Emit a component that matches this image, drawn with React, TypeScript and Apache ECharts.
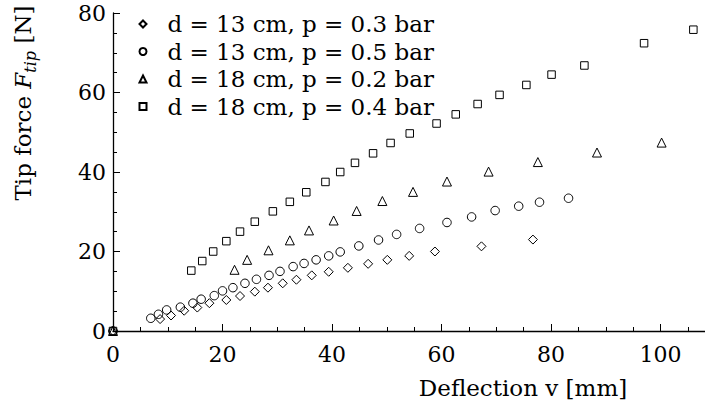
import React, { useEffect, useRef } from "react";
import * as echarts from "echarts";

const FONT = "DejaVu Serif";

const seriesNames = [
  "d = 13 cm, p = 0.3 bar",
  "d = 13 cm, p = 0.5 bar",
  "d = 18 cm, p = 0.2 bar",
  "d = 18 cm, p = 0.4 bar",
];

const symbols = ["diamond", "circle", "triangle", "rect"];
const symbolSizes = [9, 8.5, 9, 7.5];

const d13p03: number[][] = [
  [0, 0], [8.6, 3.0], [10.6, 3.9], [13.0, 5.1], [15.4, 5.9], [17.6, 7.0], [20.7, 7.8],
  [23.2, 8.8], [25.9, 9.9], [28.3, 10.9], [31.0, 12.0], [33.5, 12.9], [36.3, 14.0],
  [39.4, 14.9], [42.9, 15.9], [46.6, 16.9], [50.1, 17.9], [54.1, 18.9], [58.8, 20.0],
  [67.3, 21.3], [76.7, 23.0],
];

const d13p05: number[][] = [
  [0, 0], [6.9, 3.2], [8.3, 4.2], [9.8, 5.3], [12.3, 6.0], [14.6, 7.0], [16.1, 8.0],
  [18.5, 8.9], [20.0, 10.1], [21.9, 10.9], [24.1, 12.0], [26.2, 13.0], [28.5, 14.0],
  [30.5, 15.0], [32.9, 16.2], [34.9, 17.0], [37.1, 17.9], [39.4, 18.9], [41.5, 19.9],
  [44.9, 21.4], [48.5, 22.9], [51.8, 24.3], [56.0, 25.8], [61.0, 27.3], [65.5, 28.7],
  [69.8, 30.3], [74.1, 31.4], [77.9, 32.4], [83.2, 33.4],
];

const d18p02: number[][] = [
  [0, 0], [22.2, 15.4], [24.5, 17.9], [28.4, 20.3], [32.3, 22.8], [35.8, 25.3],
  [40.3, 27.8], [44.5, 30.2], [49.2, 32.7], [54.8, 35.0], [61.0, 37.6], [68.6, 40.1],
  [77.6, 42.5], [88.4, 44.9], [100.2, 47.4],
];

const d18p04: number[][] = [
  [0, 0], [14.3, 15.2], [16.3, 17.6], [18.3, 20.0], [20.7, 22.6], [23.2, 25.0],
  [25.9, 27.5], [29.2, 30.1], [32.3, 32.5], [35.3, 34.9], [38.8, 37.5], [41.5, 40.0],
  [44.2, 42.3], [47.5, 44.7], [50.7, 47.3], [54.2, 49.7], [59.1, 52.2], [62.6, 54.5],
  [66.6, 57.1], [70.6, 59.4], [75.5, 61.9], [80.1, 64.5], [86.1, 66.8], [97.0, 72.4],
  [106.0, 75.8],
];

const allData = [d13p03, d13p05, d18p02, d18p04];

const xTitle = "Deflection v [mm]";

export default function App() {
  const ref = useRef<HTMLDivElement>(null);

  useEffect(() => {
    if (!ref.current) return;
    const chart = echarts.init(ref.current, undefined, { renderer: "svg" });

    const axisCommon = {
      type: "value" as const,
      interval: 20,
      min: 0,
      axisLine: { show: true, lineStyle: { color: "#000", width: 1.3 } },
      axisTick: { show: true, inside: true, length: 7, lineStyle: { color: "#000", width: 1 } },
      minorTick: { show: true, splitNumber: 4, length: 4, lineStyle: { color: "#000", width: 1 } },
      splitLine: { show: false },
      minorSplitLine: { show: false },
    };

    chart.setOption({
      animation: false,
      backgroundColor: "#fff",
      grid: { left: 113, top: 13, right: 20, bottom: 82, containLabel: false },
      xAxis: {
        ...axisCommon,
        max: 120,
        axisLabel: {
          show: true,
          margin: 12,
          color: "#000",
          fontFamily: FONT,
          fontSize: 22,
          showMaxLabel: false,
        },
      },
      yAxis: {
        ...axisCommon,
        max: 80,
        axisLabel: {
          show: true,
          margin: 7,
          color: "#000",
          fontFamily: FONT,
          fontSize: 22,
        },
      },
      legend: {
        show: true,
        orient: "vertical",
        left: 138.5,
        top: 12,
        padding: 0,
        itemWidth: 7,
        itemHeight: 7,
        itemGap: 3.5,
        selectedMode: false,
        textStyle: {
          fontFamily: FONT,
          fontSize: 23,
          color: "#000",
          lineHeight: 24,
          padding: [0, 0, 0, 16],
        },
        data: seriesNames,
      },
      series: allData.map((d, i) => ({
        type: "scatter",
        name: seriesNames[i],
        data: d,
        symbol: symbols[i],
        symbolSize: symbolSizes[i],
        itemStyle: { color: "transparent", borderColor: "#000", borderWidth: 1, opacity: 1 },
        emphasis: { disabled: true },
        z: 2,
      })),
      graphic: [
        {
          type: "text",
          x: 523,
          y: 388,
          style: {
            text: xTitle,
            fontFamily: FONT,
            fontSize: 23,
            fill: "#000",
            align: "center",
            verticalAlign: "middle",
          },
        },
        {
          type: "text",
          x: 23,
          y: 103,
          rotation: Math.PI / 2,
          style: {
            text: "{n|Tip force }{i|F}{s|tip}{n| [N]}",
            fontFamily: FONT,
            fill: "#000",
            align: "center",
            verticalAlign: "middle",
            rich: {
              n: { fontFamily: FONT, fontSize: 23, lineHeight: 30, verticalAlign: "middle", fill: "#000" },
              i: { fontFamily: FONT, fontSize: 23, fontStyle: "italic", lineHeight: 30, verticalAlign: "middle", fill: "#000" },
              s: { fontFamily: FONT, fontSize: 16, fontStyle: "italic", lineHeight: 16, verticalAlign: "bottom", fill: "#000" },
            },
          },
        },
      ],
    });

    return () => chart.dispose();
  }, []);

  return (
    <div
      style={{
        position: "fixed",
        left: 0,
        top: 0,
        width: 705,
        height: 413,
        overflow: "hidden",
        background: "#fff",
      }}
    >
      <div ref={ref} style={{ width: 790, height: 413 }} />
    </div>
  );
}
